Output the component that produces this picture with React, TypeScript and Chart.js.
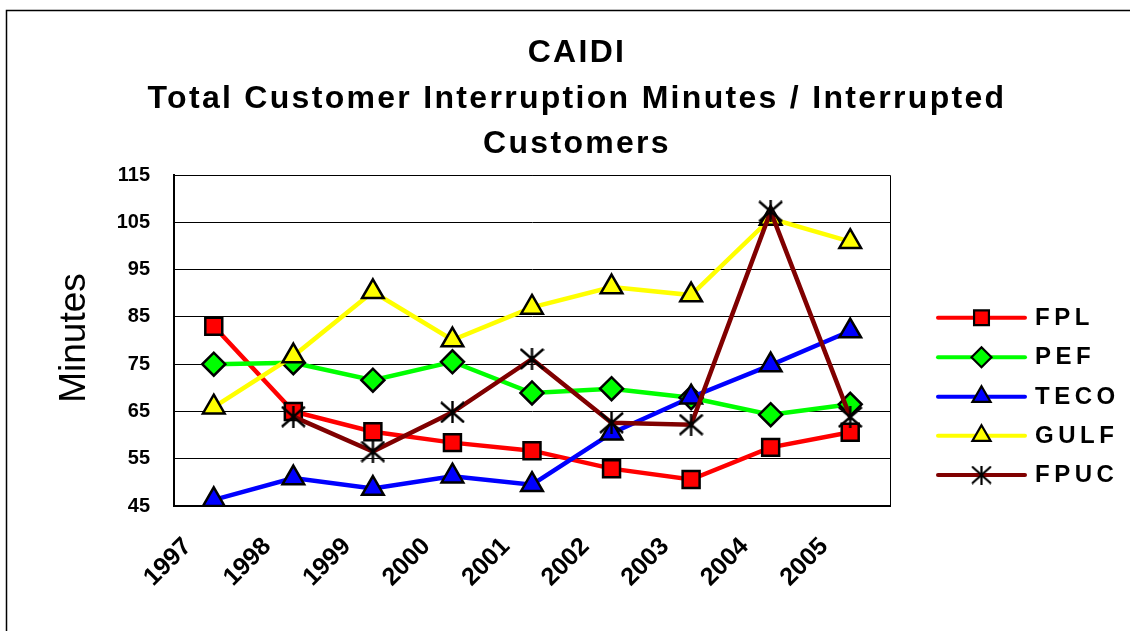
import React, { useEffect, useRef } from 'react';
import { Chart, registerables } from 'chart.js';
import { drawPoint } from 'chart.js/helpers';

Chart.register(...registerables);

const years = ['1997', '1998', '1999', '2000', '2001', '2002', '2003', '2004', '2005'];
const fplValues = [83, 65, 60.7, 58.4, 56.7, 52.9, 50.6, 57.4, 60.6];
const pefValues = [75, 75.3, 71.6, 75.5, 68.9, 69.8, 67.9, 64.3, 66.5];
const tecoValues = [46.3, 50.9, 48.7, 51.3, 49.5, 60.4, 68, 74.8, 82];
const gulfValues = [65.9, 76.7, 90.3, 80.1, 87, 91.3, 89.6, 105.8, 100.9];
const fpucValues = [null, 63.9, 56.5, 64.8, 76.1, 62.6, 62.2, 107.3, 63.8];

const seriesNames = ['FPL', 'PEF', 'TECO', 'GULF', 'FPUC'];
const seriesColors = ['#FF0000', '#00FF00', '#0000FF', '#FFFF00', '#800000'];
const yTickValues = [45, 55, 65, 75, 85, 95, 105, 115];
const titleLines = ['CAIDI', 'Total Customer Interruption Minutes / Interrupted', 'Customers'];
const yAxisTitle = 'Minutes';

const FONT = '"Liberation Sans", Arial, Helvetica, sans-serif';

function makeStar(w: number, h: number, lw: number) {
  const c = document.createElement('canvas');
  c.width = w;
  c.height = h;
  const g = c.getContext('2d')!;
  g.strokeStyle = '#000';
  g.lineWidth = lw;
  g.beginPath();
  g.moveTo(1, 1);
  g.lineTo(w - 1, h - 1);
  g.moveTo(w - 1, 1);
  g.lineTo(1, h - 1);
  g.moveTo(w / 2, 0);
  g.lineTo(w / 2, h);
  g.stroke();
  return c;
}

export default function App() {
  const ref = useRef<HTMLCanvasElement>(null);

  useEffect(() => {
    const star = makeStar(25, 22, 2.4);
    const starSmall = makeStar(21, 19, 2.2);
    const styles: any[] = ['rect', 'rectRot', 'triangle', 'triangle', star];
    const radii = [12, 11.5, 12.5, 12.5, 12];
    const legendStyles: any[] = ['rect', 'rectRot', 'triangle', 'triangle', starSmall];
    const legendRadii = [10.5, 10, 10.5, 10.5, 10];
    const allValues = [fplValues, pefValues, tecoValues, gulfValues, fpucValues];

    const decor = {
      id: 'decor',
      beforeDatasetsDraw(chart: any) {
        const { ctx, chartArea } = chart;
        ctx.save();
        ctx.strokeStyle = '#000';
        ctx.lineWidth = 1;
        ctx.beginPath();
        ctx.moveTo(chartArea.left, chartArea.top + 0.5);
        ctx.lineTo(chartArea.right + 0.5, chartArea.top + 0.5);
        ctx.lineTo(chartArea.right + 0.5, chartArea.bottom);
        ctx.stroke();
        ctx.restore();
      },
      afterDraw(chart: any) {
        const ctx = chart.ctx as CanvasRenderingContext2D;
        ctx.save();
        // outer frame
        ctx.strokeStyle = '#000';
        ctx.lineWidth = 1.5;
        ctx.beginPath();
        ctx.moveTo(6.5, 631);
        ctx.lineTo(6.5, 10.5);
        ctx.lineTo(1130, 10.5);
        ctx.stroke();

        // title
        ctx.fillStyle = '#000';
        ctx.font = `bold 32px ${FONT}`;
        (ctx as any).letterSpacing = '2.3px';
        ctx.textAlign = 'center';
        ctx.textBaseline = 'alphabetic';
        const baselines = [62, 108, 153];
        titleLines.forEach((t, i) => ctx.fillText(t, 577, baselines[i]));

        // y axis title
        (ctx as any).letterSpacing = '0px';
        ctx.save();
        ctx.translate(85, 338);
        ctx.rotate(-Math.PI / 2);
        ctx.font = `37px ${FONT}`;
        ctx.textAlign = 'center';
        ctx.fillText(yAxisTitle, 0, 0);
        ctx.restore();

        // legend
        const rows = [317.7, 357.3, 396.7, 435.7, 475];
        seriesNames.forEach((name, i) => {
          const y = rows[i];
          ctx.strokeStyle = seriesColors[i];
          ctx.lineWidth = 4;
          ctx.lineCap = 'round';
          ctx.beginPath();
          ctx.moveTo(938, y);
          ctx.lineTo(1025, y);
          ctx.stroke();
          ctx.lineCap = 'butt';
          ctx.fillStyle = seriesColors[i];
          ctx.strokeStyle = '#000';
          ctx.lineWidth = 2.2;
          drawPoint(ctx, { pointStyle: legendStyles[i], radius: legendRadii[i], borderWidth: 2.2, rotation: 0 } as any, 981.5, y);
          ctx.fillStyle = '#000';
          ctx.font = `bold 24px ${FONT}`;
          (ctx as any).letterSpacing = '4.5px';
          ctx.textAlign = 'left';
          ctx.textBaseline = 'alphabetic';
          ctx.fillText(name, 1035, y + 7);
          (ctx as any).letterSpacing = '0px';
        });
        ctx.restore();
      },
    };

    const chart = new Chart(ref.current!, {
      type: 'line',
      data: {
        labels: years,
        datasets: seriesNames.map((name, i) => ({
          label: name,
          data: allValues[i],
          borderColor: seriesColors[i],
          backgroundColor: seriesColors[i],
          borderWidth: 4.5,
          pointStyle: styles[i],
          pointRadius: radii[i],
          pointHoverRadius: radii[i],
          pointBorderColor: '#000',
          pointBorderWidth: 2.5,
          pointBackgroundColor: seriesColors[i],
          tension: 0,
          order: 5 - i,
          fill: false,
        })),
      },
      options: {
        responsive: false,
        animation: false,
        events: [],
        layout: { padding: { left: 0, top: 175, right: 240, bottom: 0 } },
        plugins: {
          legend: { display: false },
          title: { display: false },
          tooltip: { enabled: false },
        },
        scales: {
          x: {
            type: 'category',
            offset: true,
            grid: { display: false, drawTicks: false },
            border: { display: true, color: '#000', width: 2 },
            ticks: {
              autoSkip: false,
              maxRotation: 45,
              minRotation: 45,
              padding: 26,
              labelOffset: -26,
              color: '#000',
              font: { family: FONT, size: 25, weight: 'bold' },
            },
            afterFit: (s: any) => {
              s.height = 125;
            },
          },
          y: {
            min: 45,
            max: 115,
            afterBuildTicks: (s: any) => {
              s.ticks = yTickValues.map((v) => ({ value: v }));
            },
            grid: { color: '#000', lineWidth: 1, drawTicks: false },
            border: { display: true, color: '#000', width: 2 },
            ticks: {
              padding: 24,
              color: '#000',
              font: { family: FONT, size: 20, weight: 'bold' },
            },
            afterFit: (s: any) => {
              s.width = 174;
            },
          },
        },
      },
      plugins: [decor],
    });
    return () => chart.destroy();
  }, []);

  return (
    <div style={{ position: 'fixed', left: 0, top: 0, width: 1130, height: 631, background: '#fff' }}>
      <canvas ref={ref} width={1130} height={631} style={{ display: 'block' }} />
    </div>
  );
}
